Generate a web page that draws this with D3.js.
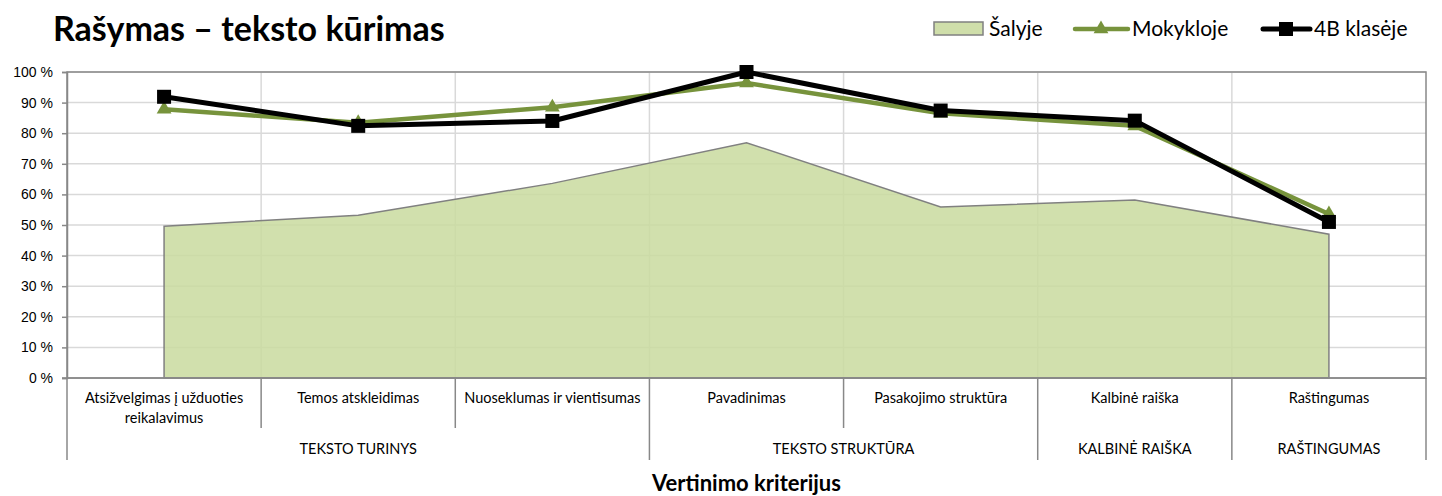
<!DOCTYPE html>
<html lang="lt">
<head>
<meta charset="UTF-8">
<title>Rašymas – teksto kūrimas</title>
<script src="https://d3js.org/d3.v7.min.js"></script>
<style>
  body { margin: 0; background: #fff; font-family: Lato, "Open Sans", sans-serif; }
  .grid line { stroke: #d9d9d9; stroke-width: 1.5; }
  .y-axis path, .y-axis line { stroke: #888; stroke-width: 1.5; }
  .y-axis text { font-size: 14px; fill: #000; }
  .cat-label { font-size: 14.5px; fill: #000; }
</style>
</head>
<body>
<div id="chart"></div>
<script>
// kriterijai (x ašis)
const categories = [
  "Atsižvelgimas į užduoties reikalavimus",
  "Temos atskleidimas",
  "Nuoseklumas ir vientisumas",
  "Pavadinimas",
  "Pasakojimo struktūra",
  "Kalbinė raiška",
  "Raštingumas"
];
// grupės: pavadinimas ir kiek kriterijų apima
const groupNames = ["TEKSTO TURINYS", "TEKSTO STRUKTŪRA", "KALBINĖ RAIŠKA", "RAŠTINGUMAS"];
const groupSizes = [3, 2, 1, 1];

const seriesNames = ["Šalyje", "Mokykloje", "4B klasėje"];
const salyje    = [49.6, 53.2, 63.6, 76.9, 55.9, 58.2, 47.0];
const mokykloje = [87.8, 83.4, 88.5, 96.4, 86.5, 82.4, 53.6];
const klase4B   = [91.9, 82.4, 84.0, 100, 87.4, 84.1, 51.0];

const yTicks = [0, 10, 20, 30, 40, 50, 60, 70, 80, 90, 100];

const W = 1442, H = 496;
const plot = { left: 67, right: 1426, top: 72, bottom: 378 };

const svg = d3.select("#chart").append("svg")
  .attr("width", W).attr("height", H);

const x = d3.scaleBand().domain(categories).range([plot.left, plot.right]).padding(0);
const y = d3.scaleLinear().domain([0, 100]).range([plot.bottom, plot.top]);
const cx = d => x(d) + x.bandwidth() / 2;

// tinklelis
const grid = svg.append("g").attr("class", "grid");
grid.selectAll("line.h").data(yTicks.slice(1)).enter().append("line")
  .attr("x1", plot.left).attr("x2", plot.right)
  .attr("y1", d => y(d)).attr("y2", d => y(d));
grid.selectAll("line.v").data(categories.slice(1)).enter().append("line")
  .attr("x1", d => x(d)).attr("x2", d => x(d))
  .attr("y1", plot.top).attr("y2", plot.bottom);

// Šalyje - plotas
const area = d3.area()
  .x((d, i) => cx(categories[i]))
  .y0(y(0))
  .y1(d => y(d));
svg.append("path")
  .datum(salyje)
  .attr("d", area)
  .attr("fill", "#c9da9f")
  .attr("fill-opacity", 0.85)
  .attr("stroke", "#808080")
  .attr("stroke-width", 1.5);

// rėmelis
svg.append("rect")
  .attr("x", plot.left).attr("y", plot.top)
  .attr("width", plot.right - plot.left).attr("height", plot.bottom - plot.top)
  .attr("fill", "none").attr("stroke", "#888").attr("stroke-width", 1.5);

// y ašis
svg.append("g")
  .attr("class", "y-axis")
  .attr("transform", `translate(${plot.left},0)`)
  .call(d3.axisLeft(y).tickValues(yTicks).tickSize(5).tickPadding(9).tickFormat(d => d + " %"));

// linijos
const line = d3.line().x((d, i) => cx(categories[i])).y(d => y(d));

svg.append("path").datum(mokykloje).attr("d", line)
  .attr("fill", "none").attr("stroke", "#77933c").attr("stroke-width", 4.5)
  .attr("stroke-linejoin", "round");
svg.selectAll("path.tri").data(mokykloje).enter().append("path")
  .attr("class", "tri")
  .attr("d", d3.symbol().type(d3.symbolTriangle).size(95))
  .attr("transform", (d, i) => `translate(${cx(categories[i])},${y(d)})`)
  .attr("fill", "#77933c");

svg.append("path").datum(klase4B).attr("d", line)
  .attr("fill", "none").attr("stroke", "#000").attr("stroke-width", 5)
  .attr("stroke-linejoin", "round");
svg.selectAll("rect.sq").data(klase4B).enter().append("rect")
  .attr("class", "sq")
  .attr("x", (d, i) => cx(categories[i]) - 7)
  .attr("y", d => y(d) - 7)
  .attr("width", 14).attr("height", 14)
  .attr("fill", "#000");

// x ašis: kriterijai ir grupės
const axisColor = "#888";
svg.append("line")
  .attr("x1", plot.left - 5).attr("x2", plot.right)
  .attr("y1", plot.bottom).attr("y2", plot.bottom)
  .attr("stroke", axisColor).attr("stroke-width", 1.5);

// grupių ribos
let bounds = [0];
groupSizes.forEach(s => bounds.push(bounds[bounds.length - 1] + s));
const edgeX = i => i < categories.length ? x(categories[i]) : plot.right;

categories.forEach((c, i) => {
  if (i === 0) return;
  if (!bounds.includes(i)) {
    svg.append("line")
      .attr("x1", x(c)).attr("x2", x(c))
      .attr("y1", plot.bottom).attr("y2", 428)
      .attr("stroke", axisColor).attr("stroke-width", 1.5);
  }
});
bounds.forEach(b => {
  svg.append("line")
    .attr("x1", edgeX(b)).attr("x2", edgeX(b))
    .attr("y1", plot.bottom).attr("y2", 460)
    .attr("stroke", axisColor).attr("stroke-width", 1.5);
});

// kriterijų pavadinimai su perkėlimu
categories.forEach(c => {
  const t = svg.append("text")
    .attr("class", "cat-label")
    .attr("text-anchor", "middle")
    .attr("x", cx(c)).attr("y", 403);
  const words = c.split(" ");
  let lineWords = [];
  let tspan = t.append("tspan").attr("x", cx(c)).attr("dy", 0);
  words.forEach(w => {
    lineWords.push(w);
    tspan.text(lineWords.join(" "));
    if (tspan.node().getComputedTextLength() > x.bandwidth() - 10 && lineWords.length > 1) {
      lineWords.pop();
      tspan.text(lineWords.join(" "));
      lineWords = [w];
      tspan = t.append("tspan").attr("x", cx(c)).attr("dy", "1.35em").text(w);
    }
  });
});

groupNames.forEach((g, i) => {
  const mid = (edgeX(bounds[i]) + edgeX(bounds[i + 1])) / 2;
  svg.append("text")
    .attr("class", "cat-label")
    .attr("text-anchor", "middle")
    .attr("x", mid).attr("y", 454)
    .text(g);
});

// ašies pavadinimas
svg.append("text")
  .attr("x", (plot.left + plot.right) / 2).attr("y", 491)
  .attr("text-anchor", "middle")
  .attr("font-size", 22).attr("font-weight", "bold")
  .text("Vertinimo kriterijus");

// antraštė
svg.append("text")
  .attr("x", 53).attr("y", 41)
  .attr("font-size", 34).attr("font-weight", "bold")
  .text("Rašymas – teksto kūrimas");

// legenda
const lg = svg.append("g").attr("font-size", 21);
lg.append("rect").attr("x", 934).attr("y", 22).attr("width", 49).attr("height", 13)
  .attr("fill", "#cfdeaa").attr("stroke", "#808080").attr("stroke-width", 1.5);
lg.append("text").attr("x", 989).attr("y", 36).text(seriesNames[0]);

lg.append("line").attr("x1", 1075).attr("x2", 1128).attr("y1", 29).attr("y2", 29)
  .attr("stroke", "#77933c").attr("stroke-width", 4.5).attr("stroke-linecap", "round");
lg.append("path").attr("d", d3.symbol().type(d3.symbolTriangle).size(95))
  .attr("transform", "translate(1101,29)").attr("fill", "#77933c");
lg.append("text").attr("x", 1132).attr("y", 36).text(seriesNames[1]);

lg.append("line").attr("x1", 1263).attr("x2", 1310).attr("y1", 29).attr("y2", 29)
  .attr("stroke", "#000").attr("stroke-width", 5).attr("stroke-linecap", "round");
lg.append("rect").attr("x", 1279).attr("y", 22).attr("width", 14).attr("height", 14).attr("fill", "#000");
lg.append("text").attr("x", 1314).attr("y", 36).text(seriesNames[2]);
</script>
</body>
</html>
